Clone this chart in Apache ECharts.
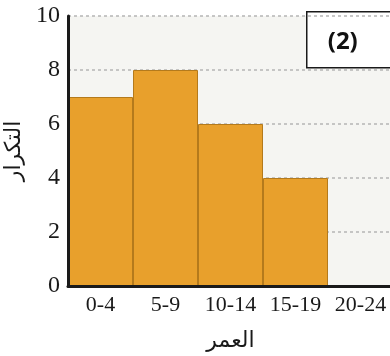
<!DOCTYPE html>
<html>
<head>
<meta charset="utf-8">
<style>
  html, body { margin: 0; padding: 0; background: #ffffff; }
  #chart { width: 390px; height: 356px; }
</style>
<script src="https://cdn.jsdelivr.net/npm/echarts@6/dist/echarts.min.js"></script>
</head>
<body>
<div id="chart"></div>
<script>
// Age groups and how many people fall into each
const ageGroups = ['0-4', '5-9', '10-14', '15-19', '20-24'];
const frequencies = [7, 8, 6, 4, 0];
const yTicks = [0, 2, 4, 6, 8, 10];

const xTitle = 'العمر';
const yTitle = 'التكرار';
const panelTag = '(2)';

const serif = '"Liberation Serif", "DejaVu Serif", serif';
const arabic = '"DejaVu Sans", sans-serif';
const ink = '#1a1a1a';

const yMin = yTicks[0];
const yMax = yTicks[yTicks.length - 1];

const chart = echarts.init(document.getElementById('chart'));

chart.setOption({
  animation: false,
  backgroundColor: '#ffffff',
  grid: {
    left: 68, top: 16, bottom: 70, right: -3,
    containLabel: false, outerBoundsMode: 'none',
    show: true, backgroundColor: '#f5f5f2', borderWidth: 0
  },
  xAxis: [{
    type: 'category',
    data: ageGroups,
    name: xTitle,
    nameLocation: 'middle',
    nameGap: 44,
    nameTextStyle: { fontFamily: arabic, fontSize: 22, color: ink },
    axisLine: { lineStyle: { color: ink, width: 3 } },
    axisTick: { show: false },
    axisLabel: { interval: 0, fontFamily: serif, fontSize: 22, color: ink, margin: 8 },
    splitLine: { show: false },
    z: 12
  }, {
    // light frame line along the top of the plot
    type: 'category',
    data: ageGroups,
    position: 'top',
    axisLine: { lineStyle: { color: '#c8c8c8', width: 1.5 } },
    axisTick: { show: false },
    axisLabel: { show: false },
    z: 2
  }],
  yAxis: [{
    // value scale, labels and dotted guides (behind the bars)
    type: 'value',
    min: yMin, max: yMax, interval: 2,
    name: yTitle,
    nameLocation: 'middle',
    nameGap: 29,
    nameRotate: 90,
    nameTextStyle: { fontFamily: arabic, fontSize: 22, color: ink },
    axisLine: { show: false },
    axisTick: { show: false },
    axisLabel: { fontFamily: serif, fontSize: 24, color: ink, margin: 8,
      formatter: v => yTicks.includes(v) ? String(v) : '' },
    splitLine: {
      show: true,
      lineStyle: { color: '#b5b5b5', type: [3, 3], width: 1.5 }
    },
    z: 1
  }, {
    // solid left axis line drawn above the bars
    type: 'value',
    min: yMin, max: yMax, interval: 2,
    position: 'left',
    axisLine: { show: true, lineStyle: { color: ink, width: 3 } },
    axisTick: { show: false },
    axisLabel: { show: false },
    splitLine: { show: false },
    z: 12
  }],
  series: [{
    type: 'bar',
    data: frequencies.map(v => ({
      value: v,
      itemStyle: v === 0 ? { borderWidth: 0 } : {}
    })),
    barCategoryGap: 0,
    itemStyle: { color: '#e8a02c', borderColor: '#b47a1c', borderWidth: 1 },
    z: 5
  }],
  graphic: [{
    type: 'group',
    left: 306, top: 11,
    z: 20,
    children: [{
      type: 'rect',
      shape: { x: 0, y: 0, width: 90, height: 56 },
      style: { fill: '#ffffff', stroke: ink, lineWidth: 1.5 }
    }, {
      type: 'text',
      x: 36, y: 30,
      style: {
        text: panelTag, fill: '#111111',
        font: 'bold 24px "Open Sans", "DejaVu Sans", sans-serif',
        align: 'center', verticalAlign: 'middle'
      }
    }]
  }]
});
</script>
</body>
</html>
